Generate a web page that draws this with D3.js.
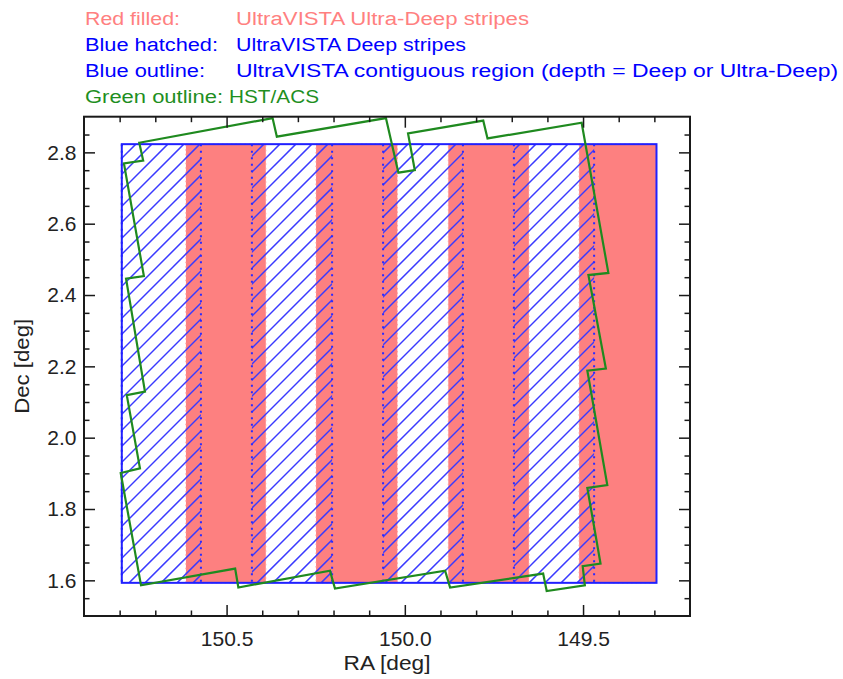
<!DOCTYPE html>
<html>
<head>
<meta charset="utf-8">
<script src="https://cdn.jsdelivr.net/npm/d3@7"></script>
<style>
  html, body { margin: 0; padding: 0; background: #fff; }
  svg { display: block; }
  text { font-family: "Liberation Sans", Arial, Helvetica, sans-serif; }
</style>
</head>
<body>
<svg id="chart" width="843" height="679"></svg>
<script>
// ---------------- data ----------------
const ultraDeepStripesRA = [[150.614, 150.390], [150.249, 150.021], [149.878, 149.652], [149.511, 149.294]];
const deepStripesRA      = [[150.794, 150.572], [150.429, 150.204], [150.061, 149.837], [149.694, 149.469]];
const stripeDec          = [1.593, 2.823];
const regionRA           = [150.794, 149.294];
const regionDec          = [1.593, 2.823];

const hstRA  = [150.745, 150.371, 150.359, 150.053, 150.018, 149.972, 149.991, 149.780, 149.768, 149.504,
                149.429, 149.485, 149.436, 149.488, 149.432, 149.488, 149.451, 149.501, 149.495, 149.602,
                149.612, 149.873, 149.887, 150.196, 150.210, 150.467, 150.476, 150.740, 150.797, 150.743,
                150.780, 150.729, 150.782, 150.732, 150.788, 150.734];
const hstDec = [2.827, 2.896, 2.844, 2.896, 2.743, 2.750, 2.853, 2.889, 2.839, 2.883,
                2.462, 2.456, 2.194, 2.188, 1.867, 1.859, 1.647, 1.640, 1.586, 1.570,
                1.619, 1.580, 1.627, 1.577, 1.627, 1.580, 1.633, 1.586, 1.901, 1.914,
                2.119, 2.129, 2.446, 2.453, 2.769, 2.777];

const xDomain = [150.9, 149.2];
const yDomain = [1.5, 2.9];
const xMajorTicks = [150.5, 150.0, 149.5];
const xMinorTicks = [150.8, 150.7, 150.6, 150.4, 150.3, 150.2, 150.1, 149.9, 149.8, 149.7, 149.6, 149.4, 149.3];
const yMajorTicks = [1.6, 1.8, 2.0, 2.2, 2.4, 2.6, 2.8];
const yMinorTicks = [1.55, 1.65, 1.7, 1.75, 1.85, 1.9, 1.95, 2.05, 2.1, 2.15, 2.25, 2.3, 2.35, 2.45, 2.5, 2.55, 2.65, 2.7, 2.75, 2.85];

const legendKeys  = ["Red filled:", "Blue hatched:", "Blue outline:", "Green outline:"];
const legendTexts = ["UltraVISTA Ultra-Deep stripes", "UltraVISTA Deep stripes",
                     "UltraVISTA contiguous region (depth = Deep or Ultra-Deep)", "HST/ACS"];
const xLabel = "RA [deg]";
const yLabel = "Dec [deg]";

// ---------------- layout / style ----------------
const plot = { left: 84, right: 690, top: 116.7, bottom: 616 };
const legendColors = ["#ff8080", "#0000ff", "#0000ff", "#1f8f1f"];
const legendY = [25, 50.5, 77, 103.3];
const legendKeyW = [95, 133, 120, 138];
const legendTextX = [236, 236, 236, 229];
const legendTextW = [293, 230, 602, 90];

const svg = d3.select("#chart");
const x = d3.scaleLinear().domain(xDomain).range([plot.left, plot.right]);
const y = d3.scaleLinear().domain(yDomain).range([plot.bottom, plot.top]);

// ---------------- legend ----------------
const leg = svg.append("g");
legendKeys.forEach((k, i) => {
  leg.append("text").attr("x", 85).attr("y", legendY[i])
    .attr("font-size", 18).attr("fill", legendColors[i])
    .attr("textLength", legendKeyW[i]).attr("lengthAdjust", "spacingAndGlyphs").text(k);
  leg.append("text").attr("x", legendTextX[i]).attr("y", legendY[i])
    .attr("font-size", 18).attr("fill", legendColors[i])
    .attr("textLength", legendTextW[i]).attr("lengthAdjust", "spacingAndGlyphs").text(legendTexts[i]);
});

// ---------------- red ultra-deep stripes ----------------
svg.append("g").selectAll("rect").data(ultraDeepStripesRA).join("rect")
  .attr("x", d => x(d[0])).attr("width", d => x(d[1]) - x(d[0]))
  .attr("y", y(stripeDec[1])).attr("height", y(stripeDec[0]) - y(stripeDec[1]))
  .attr("fill", "#fd8080")
  .attr("stroke", "#ff9a9a").attr("stroke-width", 1).attr("stroke-dasharray", "1.5,3");

// ---------------- blue hatched deep stripes ----------------
const defs = svg.append("defs");
const clip = defs.append("clipPath").attr("id", "deepClip");
clip.selectAll("rect").data(deepStripesRA).join("rect")
  .attr("x", d => x(d[0])).attr("width", d => x(d[1]) - x(d[0]))
  .attr("y", y(stripeDec[1])).attr("height", y(stripeDec[0]) - y(stripeDec[1]));

const yTop = y(stripeDec[1]), yBot = y(stripeDec[0]);
const xl = x(regionRA[0]), xr = x(regionRA[1]);
const step = 16;
const hatchC = d3.range(xl + yTop - 2, xr + yBot + step, step);
svg.append("g").attr("clip-path", "url(#deepClip)")
  .selectAll("line").data(hatchC).join("line")
  .attr("x1", c => c - yBot).attr("y1", yBot)
  .attr("x2", c => c - yTop).attr("y2", yTop)
  .attr("stroke", "#3a3aff").attr("stroke-width", 1.5);

// dotted edges of deep stripes
const deepEdges = deepStripesRA.flat();
svg.append("g").selectAll("line").data(deepEdges).join("line")
  .attr("x1", d => x(d)).attr("x2", d => x(d))
  .attr("y1", yTop).attr("y2", yBot)
  .attr("stroke", "#2a2aff").attr("stroke-width", 2).attr("stroke-dasharray", "2,4.5");

// ---------------- blue outline ----------------
svg.append("rect")
  .attr("x", x(regionRA[0])).attr("width", x(regionRA[1]) - x(regionRA[0]))
  .attr("y", y(regionDec[1])).attr("height", y(regionDec[0]) - y(regionDec[1]))
  .attr("fill", "none").attr("stroke", "#2020ff").attr("stroke-width", 2);

// ---------------- green HST/ACS outline ----------------
const hstPts = hstRA.map((r, i) => [x(r), y(hstDec[i])]);
svg.append("path")
  .attr("d", d3.line()(hstPts) + "Z")
  .attr("fill", "none").attr("stroke", "#1f8a1f").attr("stroke-width", 2.2)
  .attr("stroke-linejoin", "miter");

// ---------------- axes ----------------
const axisColor = "#1a1a1a";
const majorLen = 11, minorLen = 5.5;
function styleAxis(g) {
  g.select(".domain").remove();
  g.selectAll(".tick line").attr("stroke", axisColor).attr("stroke-width", 1.5);
  g.selectAll(".tick text").attr("fill", "#222").attr("font-size", 21)
    .attr("font-family", "\"Liberation Sans\", Arial, sans-serif");
}
// bottom
svg.append("g").attr("transform", `translate(0,${plot.bottom})`)
  .call(d3.axisBottom(x).tickValues(xMajorTicks).tickFormat(d3.format(".1f")).tickSize(-majorLen).tickPadding(14.7))
  .call(styleAxis);
svg.append("g").attr("transform", `translate(0,${plot.bottom})`)
  .call(d3.axisBottom(x).tickValues(xMinorTicks).tickFormat("").tickSize(-minorLen))
  .call(styleAxis);
// top
svg.append("g").attr("transform", `translate(0,${plot.top})`)
  .call(d3.axisTop(x).tickValues(xMajorTicks).tickFormat("").tickSize(-majorLen))
  .call(styleAxis);
svg.append("g").attr("transform", `translate(0,${plot.top})`)
  .call(d3.axisTop(x).tickValues(xMinorTicks).tickFormat("").tickSize(-minorLen))
  .call(styleAxis);
// left
svg.append("g").attr("transform", `translate(${plot.left},0)`)
  .call(d3.axisLeft(y).tickValues(yMajorTicks).tickFormat(d3.format(".1f")).tickSize(-majorLen).tickPadding(7.5))
  .call(styleAxis);
svg.append("g").attr("transform", `translate(${plot.left},0)`)
  .call(d3.axisLeft(y).tickValues(yMinorTicks).tickFormat("").tickSize(-minorLen))
  .call(styleAxis);
// right
svg.append("g").attr("transform", `translate(${plot.right},0)`)
  .call(d3.axisRight(y).tickValues(yMajorTicks).tickFormat("").tickSize(-majorLen))
  .call(styleAxis);
svg.append("g").attr("transform", `translate(${plot.right},0)`)
  .call(d3.axisRight(y).tickValues(yMinorTicks).tickFormat("").tickSize(-minorLen))
  .call(styleAxis);

// frame
svg.append("rect")
  .attr("x", plot.left).attr("y", plot.top)
  .attr("width", plot.right - plot.left).attr("height", plot.bottom - plot.top)
  .attr("fill", "none").attr("stroke", axisColor).attr("stroke-width", 2);

// axis titles
svg.append("text").attr("x", (plot.left + plot.right) / 2).attr("y", 670)
  .attr("text-anchor", "middle").attr("font-size", 21).attr("fill", "#222")
  .attr("textLength", 87).attr("lengthAdjust", "spacingAndGlyphs").text(xLabel);
svg.append("text")
  .attr("transform", `translate(29,${(plot.top + plot.bottom) / 2}) rotate(-90)`)
  .attr("text-anchor", "middle").attr("font-size", 21).attr("fill", "#222")
  .attr("textLength", 95).attr("lengthAdjust", "spacingAndGlyphs").text(yLabel);
</script>
</body>
</html>
